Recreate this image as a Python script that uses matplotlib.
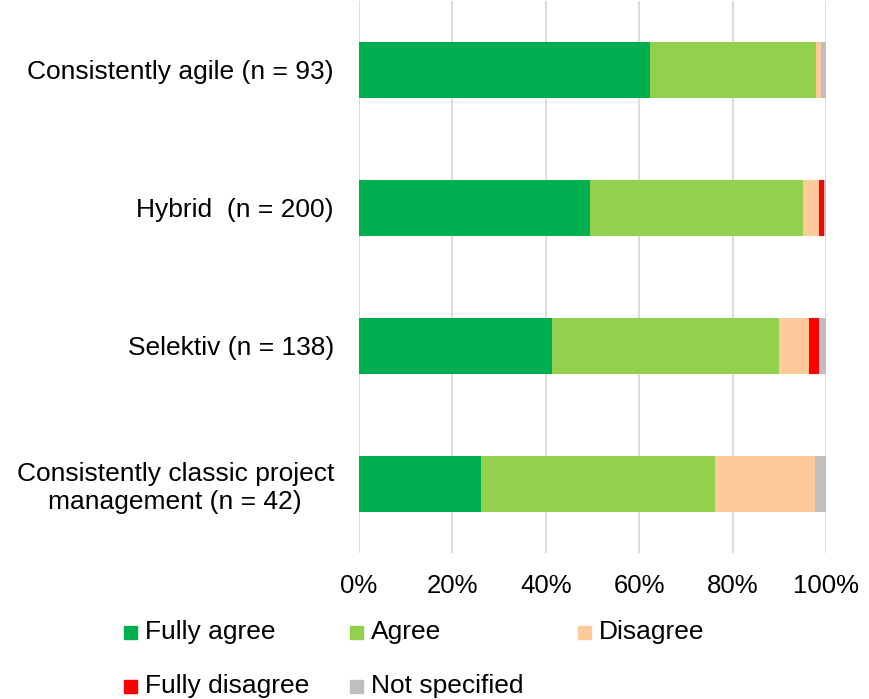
import matplotlib.pyplot as plt
from matplotlib.patches import Rectangle

plt.rcParams['font.family'] = ['Liberation Sans', 'DejaVu Sans']

# data (shares in %)
groups = ['Consistently agile (n = 93)', 'Hybrid  (n = 200)', 'Selektiv (n = 138)',
          'Consistently classic project\nmanagement (n = 42)']
series = ['Fully agree', 'Agree', 'Disagree', 'Fully disagree', 'Not specified']
colors = ['#00B050', '#92D050', '#FFCA99', '#FF0000', '#BFBFBF']
fully_agree = [62.4, 49.5, 41.3, 26.2]
agree = [35.5, 45.5, 48.6, 50.0]
disagree = [1.1, 3.5, 6.5, 21.4]
fully_disagree = [0.0, 1.0, 2.2, 0.0]
not_specified = [1.0, 0.5, 1.4, 2.4]
values = [fully_agree, agree, disagree, fully_disagree, not_specified]

fig = plt.figure(figsize=(8.7, 6.99), dpi=100)
ax = fig.add_axes([359/870, 1 - 553/699, 467/870, 552/699])

ypos = list(range(len(groups)))
left = [0.0] * len(groups)
for name, vals, c in zip(series, values, colors):
    ax.barh(ypos, vals, left=left, height=0.4, color=c, edgecolor='none', zorder=3)
    left = [l + v for l, v in zip(left, vals)]

ax.set_xlim(0, 100)
ax.set_ylim(len(groups) - 0.5, -0.5)
ax.set_xticks([0, 20, 40, 60, 80, 100])
ax.set_xticklabels(['0%', '20%', '40%', '60%', '80%', '100%'], fontsize=18.5)
ax.set_yticks(ypos)
ax.set_yticklabels(groups, fontsize=19)
for lab in ax.get_yticklabels():
    lab.set_multialignment('center')
ax.tick_params(axis='x', length=0, pad=15)
ax.tick_params(axis='y', length=0, pad=18)
ax.grid(axis='x', color='#D9D9D9', linewidth=1.3, zorder=0)
for s in ax.spines.values():
    s.set_visible(False)

# legend laid out like the original (3 columns, 2 rows)
col_x = [124, 350, 578]
row_y = [632, 686]
for i, (name, c) in enumerate(zip(series, colors)):
    x = col_x[i % 3]
    y = row_y[i // 3]
    fig.patches.append(Rectangle((x / 870, 1 - (y + 7) / 699), 13 / 870, 13 / 699,
                                 transform=fig.transFigure, color=c))
    fig.text((x + 21) / 870, 1 - y / 699, name, fontsize=19, va='center', ha='left')

fig.savefig('out.png', dpi=100)
